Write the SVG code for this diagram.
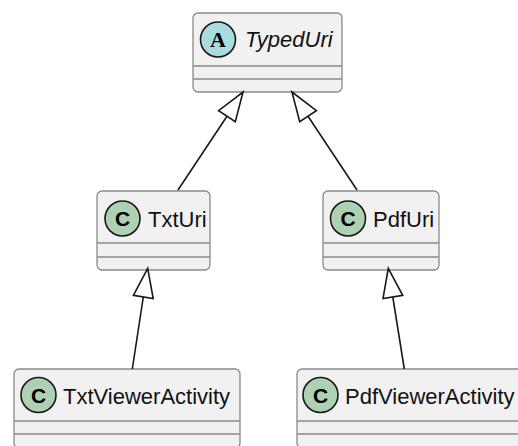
<svg xmlns="http://www.w3.org/2000/svg" width="518" height="446" viewBox="0 0 518 446">
<style>
.box{fill:#F1F1F1;stroke:#8a8a8a;stroke-width:1.3}
.sep{stroke:#8a8a8a;stroke-width:1.3}
.lbl{font-family:"Liberation Sans",Arial,sans-serif;font-size:22px;fill:#111}
.ci{stroke:#181818;stroke-width:1.6}
.cc{fill:#ADD1B2}
.ca{fill:#A9DCDF}
.glyphC{font-family:"Liberation Sans",Arial,sans-serif;font-weight:bold;font-size:21px;fill:#000;text-anchor:middle}
.glyphA{font-family:"Liberation Serif","Times New Roman",serif;font-weight:bold;font-size:22px;fill:#000;text-anchor:middle}
.edge{stroke:#181818;stroke-width:1.6;fill:none}
.head{fill:#FFFFFF;stroke:#181818;stroke-width:1.6;stroke-linejoin:miter}
</style>
<rect width="518" height="446" fill="#FFFFFF"/>
<g id="TypedUri">
<rect class="box" x="193" y="13" width="149" height="79" rx="5"/>
<line class="sep" x1="193" y1="66" x2="342" y2="66"/>
<line class="sep" x1="193" y1="79" x2="342" y2="79"/>
<circle class="ci ca" cx="218" cy="39.5" r="17.5"/>
<text class="glyphA" x="218" y="47">A</text>
<text class="lbl" x="245" y="47" font-style="italic">TypedUri</text>
</g>
<g id="TxtUri">
<rect class="box" x="97" y="191" width="113" height="79" rx="5"/>
<line class="sep" x1="97" y1="243" x2="210" y2="243"/>
<line class="sep" x1="97" y1="257" x2="210" y2="257"/>
<circle class="ci cc" cx="122.5" cy="218.5" r="17.5"/>
<text class="glyphC" x="122.5" y="226">C</text>
<text class="lbl" x="148" y="227">TxtUri</text>
</g>
<g id="PdfUri">
<rect class="box" x="323" y="191" width="116" height="79" rx="5"/>
<line class="sep" x1="323" y1="243" x2="439" y2="243"/>
<line class="sep" x1="323" y1="257" x2="439" y2="257"/>
<circle class="ci cc" cx="348" cy="218.5" r="17.5"/>
<text class="glyphC" x="348" y="226">C</text>
<text class="lbl" x="373" y="227">PdfUri</text>
</g>
<g id="TxtViewerActivity">
<rect class="box" x="14" y="369" width="226" height="79" rx="5"/>
<line class="sep" x1="14" y1="421" x2="240" y2="421"/>
<line class="sep" x1="14" y1="434" x2="240" y2="434"/>
<circle class="ci cc" cx="38.5" cy="395" r="17.5"/>
<text class="glyphC" x="38.5" y="402.5">C</text>
<text class="lbl" x="63" y="404">TxtViewerActivity</text>
</g>
<g id="PdfViewerActivity">
<rect class="box" x="297" y="369" width="230" height="79" rx="5"/>
<line class="sep" x1="297" y1="421" x2="527" y2="421"/>
<line class="sep" x1="297" y1="434" x2="527" y2="434"/>
<circle class="ci cc" cx="320.5" cy="395" r="17.5"/>
<text class="glyphC" x="320.5" y="402.5">C</text>
<text class="lbl" x="345" y="404">PdfViewerActivity</text>
</g>
<g id="connectors">
<line class="edge" x1="178" y1="190" x2="227" y2="116.2"/>
<polygon class="head" points="243,92 235.3,121.7 218.6,110.6"/>
<line class="edge" x1="357" y1="190" x2="308" y2="116.2"/>
<polygon class="head" points="292,92 316.4,110.6 299.7,121.7"/>
<line class="edge" x1="132.3" y1="369" x2="143.3" y2="297"/>
<polygon class="head" points="147.7,268.3 153.2,298.5 133.4,295.4"/>
<line class="edge" x1="404.3" y1="369" x2="392.8" y2="297"/>
<polygon class="head" points="388.3,268.3 402.7,295.4 383,298.5"/>
</g>
</svg>
